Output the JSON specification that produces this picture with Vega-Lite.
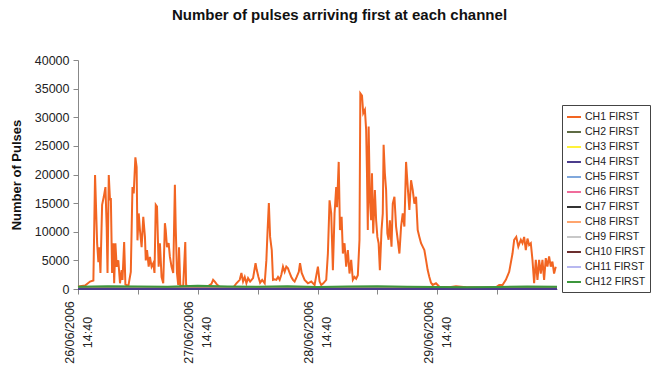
{
  "$schema": "https://vega.github.io/schema/vega-lite/v6.json",
  "autosize": "none",
  "width": 479,
  "height": 229,
  "padding": {"left": 78, "top": 60, "right": 97, "bottom": 79},
  "background": "white",
  "config": {
    "view": {"stroke": null},
    "font": "Liberation Sans"
  },
  "title": {
    "text": "Number of pulses arriving first at each channel",
    "font": "Liberation Sans",
    "fontSize": 15,
    "fontWeight": "bold",
    "color": "#111",
    "dx": 22,
    "offset": 31
  },
  "data": {
    "values": [
      {"time": "2006-06-26T14:40", "channel": "CH1 FIRST", "pulses": 400},
      {"time": "2006-06-26T15:05", "channel": "CH1 FIRST", "pulses": 500},
      {"time": "2006-06-26T16:05", "channel": "CH1 FIRST", "pulses": 600},
      {"time": "2006-06-26T17:05", "channel": "CH1 FIRST", "pulses": 1300},
      {"time": "2006-06-26T17:45", "channel": "CH1 FIRST", "pulses": 1500},
      {"time": "2006-06-26T18:05", "channel": "CH1 FIRST", "pulses": 19900},
      {"time": "2006-06-26T18:30", "channel": "CH1 FIRST", "pulses": 8000},
      {"time": "2006-06-26T18:45", "channel": "CH1 FIRST", "pulses": 4700},
      {"time": "2006-06-26T18:55", "channel": "CH1 FIRST", "pulses": 7300},
      {"time": "2006-06-26T19:10", "channel": "CH1 FIRST", "pulses": 2800},
      {"time": "2006-06-26T19:30", "channel": "CH1 FIRST", "pulses": 14700},
      {"time": "2006-06-26T19:50", "channel": "CH1 FIRST", "pulses": 16100},
      {"time": "2006-06-26T20:10", "channel": "CH1 FIRST", "pulses": 17800},
      {"time": "2006-06-26T20:25", "channel": "CH1 FIRST", "pulses": 10800},
      {"time": "2006-06-26T20:35", "channel": "CH1 FIRST", "pulses": 2800},
      {"time": "2006-06-26T20:50", "channel": "CH1 FIRST", "pulses": 19900},
      {"time": "2006-06-26T21:05", "channel": "CH1 FIRST", "pulses": 15500},
      {"time": "2006-06-26T21:15", "channel": "CH1 FIRST", "pulses": 15900},
      {"time": "2006-06-26T21:30", "channel": "CH1 FIRST", "pulses": 2800},
      {"time": "2006-06-26T21:45", "channel": "CH1 FIRST", "pulses": 8000},
      {"time": "2006-06-26T21:55", "channel": "CH1 FIRST", "pulses": 1000},
      {"time": "2006-06-26T22:10", "channel": "CH1 FIRST", "pulses": 8000},
      {"time": "2006-06-26T22:25", "channel": "CH1 FIRST", "pulses": 3900},
      {"time": "2006-06-26T22:45", "channel": "CH1 FIRST", "pulses": 5000},
      {"time": "2006-06-26T23:05", "channel": "CH1 FIRST", "pulses": 1000},
      {"time": "2006-06-26T23:25", "channel": "CH1 FIRST", "pulses": 3300},
      {"time": "2006-06-26T23:35", "channel": "CH1 FIRST", "pulses": 1600},
      {"time": "2006-06-26T23:55", "channel": "CH1 FIRST", "pulses": 8200},
      {"time": "2006-06-27T00:10", "channel": "CH1 FIRST", "pulses": 800},
      {"time": "2006-06-27T00:45", "channel": "CH1 FIRST", "pulses": 500},
      {"time": "2006-06-27T01:15", "channel": "CH1 FIRST", "pulses": 3000},
      {"time": "2006-06-27T01:35", "channel": "CH1 FIRST", "pulses": 17800},
      {"time": "2006-06-27T01:50", "channel": "CH1 FIRST", "pulses": 16700},
      {"time": "2006-06-27T02:10", "channel": "CH1 FIRST", "pulses": 23000},
      {"time": "2006-06-27T02:25", "channel": "CH1 FIRST", "pulses": 21300},
      {"time": "2006-06-27T02:35", "channel": "CH1 FIRST", "pulses": 8500},
      {"time": "2006-06-27T02:50", "channel": "CH1 FIRST", "pulses": 13200},
      {"time": "2006-06-27T03:05", "channel": "CH1 FIRST", "pulses": 10300},
      {"time": "2006-06-27T03:25", "channel": "CH1 FIRST", "pulses": 7300},
      {"time": "2006-06-27T03:45", "channel": "CH1 FIRST", "pulses": 12600},
      {"time": "2006-06-27T04:05", "channel": "CH1 FIRST", "pulses": 9100},
      {"time": "2006-06-27T04:15", "channel": "CH1 FIRST", "pulses": 5000},
      {"time": "2006-06-27T04:30", "channel": "CH1 FIRST", "pulses": 6800},
      {"time": "2006-06-27T04:50", "channel": "CH1 FIRST", "pulses": 3900},
      {"time": "2006-06-27T05:05", "channel": "CH1 FIRST", "pulses": 5600},
      {"time": "2006-06-27T05:25", "channel": "CH1 FIRST", "pulses": 3900},
      {"time": "2006-06-27T05:45", "channel": "CH1 FIRST", "pulses": 4500},
      {"time": "2006-06-27T06:00", "channel": "CH1 FIRST", "pulses": 2800},
      {"time": "2006-06-27T06:15", "channel": "CH1 FIRST", "pulses": 14700},
      {"time": "2006-06-27T06:30", "channel": "CH1 FIRST", "pulses": 14400},
      {"time": "2006-06-27T06:50", "channel": "CH1 FIRST", "pulses": 3900},
      {"time": "2006-06-27T07:05", "channel": "CH1 FIRST", "pulses": 8000},
      {"time": "2006-06-27T07:25", "channel": "CH1 FIRST", "pulses": 2100},
      {"time": "2006-06-27T07:45", "channel": "CH1 FIRST", "pulses": 1000},
      {"time": "2006-06-27T08:05", "channel": "CH1 FIRST", "pulses": 11500},
      {"time": "2006-06-27T08:15", "channel": "CH1 FIRST", "pulses": 10300},
      {"time": "2006-06-27T08:30", "channel": "CH1 FIRST", "pulses": 7300},
      {"time": "2006-06-27T08:50", "channel": "CH1 FIRST", "pulses": 8000},
      {"time": "2006-06-27T09:05", "channel": "CH1 FIRST", "pulses": 5600},
      {"time": "2006-06-27T09:25", "channel": "CH1 FIRST", "pulses": 3900},
      {"time": "2006-06-27T09:45", "channel": "CH1 FIRST", "pulses": 2800},
      {"time": "2006-06-27T10:05", "channel": "CH1 FIRST", "pulses": 18200},
      {"time": "2006-06-27T10:15", "channel": "CH1 FIRST", "pulses": 10800},
      {"time": "2006-06-27T10:30", "channel": "CH1 FIRST", "pulses": 2800},
      {"time": "2006-06-27T10:45", "channel": "CH1 FIRST", "pulses": 700},
      {"time": "2006-06-27T10:55", "channel": "CH1 FIRST", "pulses": 7300},
      {"time": "2006-06-27T11:10", "channel": "CH1 FIRST", "pulses": 600},
      {"time": "2006-06-27T11:45", "channel": "CH1 FIRST", "pulses": 500},
      {"time": "2006-06-27T12:10", "channel": "CH1 FIRST", "pulses": 8200},
      {"time": "2006-06-27T12:20", "channel": "CH1 FIRST", "pulses": 700},
      {"time": "2006-06-27T13:05", "channel": "CH1 FIRST", "pulses": 300},
      {"time": "2006-06-27T15:05", "channel": "CH1 FIRST", "pulses": 200},
      {"time": "2006-06-27T16:25", "channel": "CH1 FIRST", "pulses": 300},
      {"time": "2006-06-27T17:25", "channel": "CH1 FIRST", "pulses": 900},
      {"time": "2006-06-27T17:45", "channel": "CH1 FIRST", "pulses": 1600},
      {"time": "2006-06-27T18:05", "channel": "CH1 FIRST", "pulses": 1300},
      {"time": "2006-06-27T18:25", "channel": "CH1 FIRST", "pulses": 900},
      {"time": "2006-06-27T19:05", "channel": "CH1 FIRST", "pulses": 300},
      {"time": "2006-06-27T20:25", "channel": "CH1 FIRST", "pulses": 150},
      {"time": "2006-06-27T21:45", "channel": "CH1 FIRST", "pulses": 200},
      {"time": "2006-06-27T22:25", "channel": "CH1 FIRST", "pulses": 1000},
      {"time": "2006-06-27T23:05", "channel": "CH1 FIRST", "pulses": 1600},
      {"time": "2006-06-27T23:25", "channel": "CH1 FIRST", "pulses": 2800},
      {"time": "2006-06-27T23:45", "channel": "CH1 FIRST", "pulses": 1300},
      {"time": "2006-06-28T00:05", "channel": "CH1 FIRST", "pulses": 2100},
      {"time": "2006-06-28T00:25", "channel": "CH1 FIRST", "pulses": 1000},
      {"time": "2006-06-28T00:45", "channel": "CH1 FIRST", "pulses": 1900},
      {"time": "2006-06-28T01:10", "channel": "CH1 FIRST", "pulses": 1300},
      {"time": "2006-06-28T01:45", "channel": "CH1 FIRST", "pulses": 1900},
      {"time": "2006-06-28T02:15", "channel": "CH1 FIRST", "pulses": 4500},
      {"time": "2006-06-28T02:30", "channel": "CH1 FIRST", "pulses": 3300},
      {"time": "2006-06-28T02:50", "channel": "CH1 FIRST", "pulses": 2100},
      {"time": "2006-06-28T03:10", "channel": "CH1 FIRST", "pulses": 1100},
      {"time": "2006-06-28T03:35", "channel": "CH1 FIRST", "pulses": 1600},
      {"time": "2006-06-28T04:05", "channel": "CH1 FIRST", "pulses": 1000},
      {"time": "2006-06-28T04:25", "channel": "CH1 FIRST", "pulses": 5000},
      {"time": "2006-06-28T04:40", "channel": "CH1 FIRST", "pulses": 10300},
      {"time": "2006-06-28T04:55", "channel": "CH1 FIRST", "pulses": 15000},
      {"time": "2006-06-28T05:10", "channel": "CH1 FIRST", "pulses": 9100},
      {"time": "2006-06-28T05:30", "channel": "CH1 FIRST", "pulses": 6800},
      {"time": "2006-06-28T05:45", "channel": "CH1 FIRST", "pulses": 1600},
      {"time": "2006-06-28T06:05", "channel": "CH1 FIRST", "pulses": 1700},
      {"time": "2006-06-28T06:25", "channel": "CH1 FIRST", "pulses": 1600},
      {"time": "2006-06-28T06:45", "channel": "CH1 FIRST", "pulses": 2100},
      {"time": "2006-06-28T07:05", "channel": "CH1 FIRST", "pulses": 1600},
      {"time": "2006-06-28T07:25", "channel": "CH1 FIRST", "pulses": 2500},
      {"time": "2006-06-28T07:45", "channel": "CH1 FIRST", "pulses": 3900},
      {"time": "2006-06-28T08:05", "channel": "CH1 FIRST", "pulses": 3000},
      {"time": "2006-06-28T08:25", "channel": "CH1 FIRST", "pulses": 3900},
      {"time": "2006-06-28T08:45", "channel": "CH1 FIRST", "pulses": 3600},
      {"time": "2006-06-28T09:05", "channel": "CH1 FIRST", "pulses": 2800},
      {"time": "2006-06-28T09:25", "channel": "CH1 FIRST", "pulses": 2100},
      {"time": "2006-06-28T09:45", "channel": "CH1 FIRST", "pulses": 1600},
      {"time": "2006-06-28T10:05", "channel": "CH1 FIRST", "pulses": 1300},
      {"time": "2006-06-28T10:30", "channel": "CH1 FIRST", "pulses": 2100},
      {"time": "2006-06-28T10:55", "channel": "CH1 FIRST", "pulses": 3000},
      {"time": "2006-06-28T11:10", "channel": "CH1 FIRST", "pulses": 4500},
      {"time": "2006-06-28T11:30", "channel": "CH1 FIRST", "pulses": 2800},
      {"time": "2006-06-28T12:05", "channel": "CH1 FIRST", "pulses": 1600},
      {"time": "2006-06-28T12:45", "channel": "CH1 FIRST", "pulses": 1000},
      {"time": "2006-06-28T13:25", "channel": "CH1 FIRST", "pulses": 1300},
      {"time": "2006-06-28T14:05", "channel": "CH1 FIRST", "pulses": 700},
      {"time": "2006-06-28T14:45", "channel": "CH1 FIRST", "pulses": 3900},
      {"time": "2006-06-28T15:05", "channel": "CH1 FIRST", "pulses": 1300},
      {"time": "2006-06-28T15:25", "channel": "CH1 FIRST", "pulses": 700},
      {"time": "2006-06-28T15:50", "channel": "CH1 FIRST", "pulses": 1000},
      {"time": "2006-06-28T16:25", "channel": "CH1 FIRST", "pulses": 1600},
      {"time": "2006-06-28T16:45", "channel": "CH1 FIRST", "pulses": 6200},
      {"time": "2006-06-28T17:05", "channel": "CH1 FIRST", "pulses": 15500},
      {"time": "2006-06-28T17:25", "channel": "CH1 FIRST", "pulses": 13200},
      {"time": "2006-06-28T17:45", "channel": "CH1 FIRST", "pulses": 3300},
      {"time": "2006-06-28T18:05", "channel": "CH1 FIRST", "pulses": 13200},
      {"time": "2006-06-28T18:25", "channel": "CH1 FIRST", "pulses": 17800},
      {"time": "2006-06-28T18:35", "channel": "CH1 FIRST", "pulses": 14300},
      {"time": "2006-06-28T18:55", "channel": "CH1 FIRST", "pulses": 22200},
      {"time": "2006-06-28T19:10", "channel": "CH1 FIRST", "pulses": 10300},
      {"time": "2006-06-28T19:30", "channel": "CH1 FIRST", "pulses": 12600},
      {"time": "2006-06-28T19:45", "channel": "CH1 FIRST", "pulses": 6200},
      {"time": "2006-06-28T20:05", "channel": "CH1 FIRST", "pulses": 8000},
      {"time": "2006-06-28T20:25", "channel": "CH1 FIRST", "pulses": 3900},
      {"time": "2006-06-28T20:45", "channel": "CH1 FIRST", "pulses": 6800},
      {"time": "2006-06-28T21:05", "channel": "CH1 FIRST", "pulses": 2700},
      {"time": "2006-06-28T21:25", "channel": "CH1 FIRST", "pulses": 5100},
      {"time": "2006-06-28T21:45", "channel": "CH1 FIRST", "pulses": 1600},
      {"time": "2006-06-28T22:05", "channel": "CH1 FIRST", "pulses": 2100},
      {"time": "2006-06-28T22:25", "channel": "CH1 FIRST", "pulses": 1800},
      {"time": "2006-06-28T22:45", "channel": "CH1 FIRST", "pulses": 2400},
      {"time": "2006-06-28T23:05", "channel": "CH1 FIRST", "pulses": 8600},
      {"time": "2006-06-28T23:15", "channel": "CH1 FIRST", "pulses": 34200},
      {"time": "2006-06-28T23:35", "channel": "CH1 FIRST", "pulses": 33800},
      {"time": "2006-06-28T23:50", "channel": "CH1 FIRST", "pulses": 30700},
      {"time": "2006-06-29T00:10", "channel": "CH1 FIRST", "pulses": 31300},
      {"time": "2006-06-29T00:25", "channel": "CH1 FIRST", "pulses": 27800},
      {"time": "2006-06-29T00:35", "channel": "CH1 FIRST", "pulses": 20200},
      {"time": "2006-06-29T00:45", "channel": "CH1 FIRST", "pulses": 10300},
      {"time": "2006-06-29T00:55", "channel": "CH1 FIRST", "pulses": 28400},
      {"time": "2006-06-29T01:10", "channel": "CH1 FIRST", "pulses": 15500},
      {"time": "2006-06-29T01:25", "channel": "CH1 FIRST", "pulses": 12000},
      {"time": "2006-06-29T01:35", "channel": "CH1 FIRST", "pulses": 20200},
      {"time": "2006-06-29T01:50", "channel": "CH1 FIRST", "pulses": 9700},
      {"time": "2006-06-29T02:10", "channel": "CH1 FIRST", "pulses": 17300},
      {"time": "2006-06-29T02:25", "channel": "CH1 FIRST", "pulses": 12000},
      {"time": "2006-06-29T02:40", "channel": "CH1 FIRST", "pulses": 9100},
      {"time": "2006-06-29T02:55", "channel": "CH1 FIRST", "pulses": 8000},
      {"time": "2006-06-29T03:10", "channel": "CH1 FIRST", "pulses": 3300},
      {"time": "2006-06-29T03:30", "channel": "CH1 FIRST", "pulses": 10300},
      {"time": "2006-06-29T03:45", "channel": "CH1 FIRST", "pulses": 13200},
      {"time": "2006-06-29T03:55", "channel": "CH1 FIRST", "pulses": 25200},
      {"time": "2006-06-29T04:10", "channel": "CH1 FIRST", "pulses": 20200},
      {"time": "2006-06-29T04:25", "channel": "CH1 FIRST", "pulses": 17300},
      {"time": "2006-06-29T04:40", "channel": "CH1 FIRST", "pulses": 9700},
      {"time": "2006-06-29T04:55", "channel": "CH1 FIRST", "pulses": 8600},
      {"time": "2006-06-29T05:10", "channel": "CH1 FIRST", "pulses": 12000},
      {"time": "2006-06-29T05:30", "channel": "CH1 FIRST", "pulses": 7400},
      {"time": "2006-06-29T05:45", "channel": "CH1 FIRST", "pulses": 14900},
      {"time": "2006-06-29T06:05", "channel": "CH1 FIRST", "pulses": 16100},
      {"time": "2006-06-29T06:25", "channel": "CH1 FIRST", "pulses": 10900},
      {"time": "2006-06-29T06:45", "channel": "CH1 FIRST", "pulses": 8600},
      {"time": "2006-06-29T07:05", "channel": "CH1 FIRST", "pulses": 6200},
      {"time": "2006-06-29T07:25", "channel": "CH1 FIRST", "pulses": 10900},
      {"time": "2006-06-29T07:45", "channel": "CH1 FIRST", "pulses": 13200},
      {"time": "2006-06-29T08:05", "channel": "CH1 FIRST", "pulses": 10900},
      {"time": "2006-06-29T08:25", "channel": "CH1 FIRST", "pulses": 22200},
      {"time": "2006-06-29T08:45", "channel": "CH1 FIRST", "pulses": 17800},
      {"time": "2006-06-29T09:05", "channel": "CH1 FIRST", "pulses": 13800},
      {"time": "2006-06-29T09:25", "channel": "CH1 FIRST", "pulses": 19000},
      {"time": "2006-06-29T09:45", "channel": "CH1 FIRST", "pulses": 17300},
      {"time": "2006-06-29T10:05", "channel": "CH1 FIRST", "pulses": 14900},
      {"time": "2006-06-29T10:25", "channel": "CH1 FIRST", "pulses": 16100},
      {"time": "2006-06-29T10:45", "channel": "CH1 FIRST", "pulses": 10300},
      {"time": "2006-06-29T11:05", "channel": "CH1 FIRST", "pulses": 9100},
      {"time": "2006-06-29T11:25", "channel": "CH1 FIRST", "pulses": 8000},
      {"time": "2006-06-29T11:45", "channel": "CH1 FIRST", "pulses": 7400},
      {"time": "2006-06-29T12:05", "channel": "CH1 FIRST", "pulses": 6800},
      {"time": "2006-06-29T12:25", "channel": "CH1 FIRST", "pulses": 5100},
      {"time": "2006-06-29T12:45", "channel": "CH1 FIRST", "pulses": 3300},
      {"time": "2006-06-29T13:05", "channel": "CH1 FIRST", "pulses": 2100},
      {"time": "2006-06-29T13:25", "channel": "CH1 FIRST", "pulses": 1100},
      {"time": "2006-06-29T13:45", "channel": "CH1 FIRST", "pulses": 700},
      {"time": "2006-06-29T14:25", "channel": "CH1 FIRST", "pulses": 1000},
      {"time": "2006-06-29T15:05", "channel": "CH1 FIRST", "pulses": 400},
      {"time": "2006-06-29T17:05", "channel": "CH1 FIRST", "pulses": 300},
      {"time": "2006-06-29T18:25", "channel": "CH1 FIRST", "pulses": 500},
      {"time": "2006-06-29T20:25", "channel": "CH1 FIRST", "pulses": 300},
      {"time": "2006-06-29T23:45", "channel": "CH1 FIRST", "pulses": 200},
      {"time": "2006-06-30T02:25", "channel": "CH1 FIRST", "pulses": 300},
      {"time": "2006-06-30T03:05", "channel": "CH1 FIRST", "pulses": 700},
      {"time": "2006-06-30T03:45", "channel": "CH1 FIRST", "pulses": 700},
      {"time": "2006-06-30T04:25", "channel": "CH1 FIRST", "pulses": 1600},
      {"time": "2006-06-30T05:05", "channel": "CH1 FIRST", "pulses": 3000},
      {"time": "2006-06-30T05:45", "channel": "CH1 FIRST", "pulses": 6200},
      {"time": "2006-06-30T06:05", "channel": "CH1 FIRST", "pulses": 8600},
      {"time": "2006-06-30T06:30", "channel": "CH1 FIRST", "pulses": 9100},
      {"time": "2006-06-30T06:55", "channel": "CH1 FIRST", "pulses": 7400},
      {"time": "2006-06-30T07:25", "channel": "CH1 FIRST", "pulses": 8600},
      {"time": "2006-06-30T07:45", "channel": "CH1 FIRST", "pulses": 8000},
      {"time": "2006-06-30T08:05", "channel": "CH1 FIRST", "pulses": 9100},
      {"time": "2006-06-30T08:25", "channel": "CH1 FIRST", "pulses": 6800},
      {"time": "2006-06-30T08:45", "channel": "CH1 FIRST", "pulses": 8800},
      {"time": "2006-06-30T09:05", "channel": "CH1 FIRST", "pulses": 7700},
      {"time": "2006-06-30T09:25", "channel": "CH1 FIRST", "pulses": 8000},
      {"time": "2006-06-30T09:45", "channel": "CH1 FIRST", "pulses": 5100},
      {"time": "2006-06-30T10:05", "channel": "CH1 FIRST", "pulses": 1000},
      {"time": "2006-06-30T10:25", "channel": "CH1 FIRST", "pulses": 5100},
      {"time": "2006-06-30T10:45", "channel": "CH1 FIRST", "pulses": 1600},
      {"time": "2006-06-30T11:05", "channel": "CH1 FIRST", "pulses": 5100},
      {"time": "2006-06-30T11:25", "channel": "CH1 FIRST", "pulses": 2700},
      {"time": "2006-06-30T11:45", "channel": "CH1 FIRST", "pulses": 5100},
      {"time": "2006-06-30T12:05", "channel": "CH1 FIRST", "pulses": 1600},
      {"time": "2006-06-30T12:25", "channel": "CH1 FIRST", "pulses": 5400},
      {"time": "2006-06-30T12:45", "channel": "CH1 FIRST", "pulses": 3900},
      {"time": "2006-06-30T13:05", "channel": "CH1 FIRST", "pulses": 5700},
      {"time": "2006-06-30T13:25", "channel": "CH1 FIRST", "pulses": 3900},
      {"time": "2006-06-30T13:45", "channel": "CH1 FIRST", "pulses": 4800},
      {"time": "2006-06-30T14:05", "channel": "CH1 FIRST", "pulses": 2700},
      {"time": "2006-06-30T14:25", "channel": "CH1 FIRST", "pulses": 3900},

      {"time": "2006-06-26T14:40", "channel": "CH2 FIRST", "pulses": 250},
      {"time": "2006-06-27T02:40", "channel": "CH2 FIRST", "pulses": 300},
      {"time": "2006-06-27T14:40", "channel": "CH2 FIRST", "pulses": 250},
      {"time": "2006-06-28T02:40", "channel": "CH2 FIRST", "pulses": 300},
      {"time": "2006-06-28T14:40", "channel": "CH2 FIRST", "pulses": 200},
      {"time": "2006-06-29T02:40", "channel": "CH2 FIRST", "pulses": 300},
      {"time": "2006-06-29T14:40", "channel": "CH2 FIRST", "pulses": 200},
      {"time": "2006-06-30T02:40", "channel": "CH2 FIRST", "pulses": 250},
      {"time": "2006-06-30T14:40", "channel": "CH2 FIRST", "pulses": 250},

      {"time": "2006-06-26T14:40", "channel": "CH3 FIRST", "pulses": 60},
      {"time": "2006-06-27T02:40", "channel": "CH3 FIRST", "pulses": 80},
      {"time": "2006-06-27T14:40", "channel": "CH3 FIRST", "pulses": 50},
      {"time": "2006-06-28T02:40", "channel": "CH3 FIRST", "pulses": 70},
      {"time": "2006-06-28T14:40", "channel": "CH3 FIRST", "pulses": 50},
      {"time": "2006-06-29T02:40", "channel": "CH3 FIRST", "pulses": 80},
      {"time": "2006-06-29T14:40", "channel": "CH3 FIRST", "pulses": 40},
      {"time": "2006-06-30T02:40", "channel": "CH3 FIRST", "pulses": 50},
      {"time": "2006-06-30T14:40", "channel": "CH3 FIRST", "pulses": 60},

      {"time": "2006-06-26T14:40", "channel": "CH5 FIRST", "pulses": 30},
      {"time": "2006-06-27T02:40", "channel": "CH5 FIRST", "pulses": 40},
      {"time": "2006-06-27T14:40", "channel": "CH5 FIRST", "pulses": 30},
      {"time": "2006-06-28T02:40", "channel": "CH5 FIRST", "pulses": 40},
      {"time": "2006-06-28T14:40", "channel": "CH5 FIRST", "pulses": 30},
      {"time": "2006-06-29T02:40", "channel": "CH5 FIRST", "pulses": 40},
      {"time": "2006-06-29T14:40", "channel": "CH5 FIRST", "pulses": 20},
      {"time": "2006-06-30T02:40", "channel": "CH5 FIRST", "pulses": 30},
      {"time": "2006-06-30T14:40", "channel": "CH5 FIRST", "pulses": 30},

      {"time": "2006-06-26T14:40", "channel": "CH6 FIRST", "pulses": 40},
      {"time": "2006-06-27T02:40", "channel": "CH6 FIRST", "pulses": 60},
      {"time": "2006-06-27T14:40", "channel": "CH6 FIRST", "pulses": 40},
      {"time": "2006-06-28T02:40", "channel": "CH6 FIRST", "pulses": 50},
      {"time": "2006-06-28T14:40", "channel": "CH6 FIRST", "pulses": 40},
      {"time": "2006-06-29T02:40", "channel": "CH6 FIRST", "pulses": 60},
      {"time": "2006-06-29T14:40", "channel": "CH6 FIRST", "pulses": 30},
      {"time": "2006-06-30T02:40", "channel": "CH6 FIRST", "pulses": 40},
      {"time": "2006-06-30T14:40", "channel": "CH6 FIRST", "pulses": 40},

      {"time": "2006-06-26T14:40", "channel": "CH7 FIRST", "pulses": 20},
      {"time": "2006-06-27T02:40", "channel": "CH7 FIRST", "pulses": 30},
      {"time": "2006-06-27T14:40", "channel": "CH7 FIRST", "pulses": 20},
      {"time": "2006-06-28T02:40", "channel": "CH7 FIRST", "pulses": 30},
      {"time": "2006-06-28T14:40", "channel": "CH7 FIRST", "pulses": 20},
      {"time": "2006-06-29T02:40", "channel": "CH7 FIRST", "pulses": 30},
      {"time": "2006-06-29T14:40", "channel": "CH7 FIRST", "pulses": 10},
      {"time": "2006-06-30T02:40", "channel": "CH7 FIRST", "pulses": 20},
      {"time": "2006-06-30T14:40", "channel": "CH7 FIRST", "pulses": 20},

      {"time": "2006-06-26T14:40", "channel": "CH8 FIRST", "pulses": 50},
      {"time": "2006-06-27T02:40", "channel": "CH8 FIRST", "pulses": 70},
      {"time": "2006-06-27T14:40", "channel": "CH8 FIRST", "pulses": 50},
      {"time": "2006-06-28T02:40", "channel": "CH8 FIRST", "pulses": 60},
      {"time": "2006-06-28T14:40", "channel": "CH8 FIRST", "pulses": 50},
      {"time": "2006-06-29T02:40", "channel": "CH8 FIRST", "pulses": 70},
      {"time": "2006-06-29T14:40", "channel": "CH8 FIRST", "pulses": 40},
      {"time": "2006-06-30T02:40", "channel": "CH8 FIRST", "pulses": 50},
      {"time": "2006-06-30T14:40", "channel": "CH8 FIRST", "pulses": 50},

      {"time": "2006-06-26T14:40", "channel": "CH9 FIRST", "pulses": 30},
      {"time": "2006-06-27T02:40", "channel": "CH9 FIRST", "pulses": 40},
      {"time": "2006-06-27T14:40", "channel": "CH9 FIRST", "pulses": 30},
      {"time": "2006-06-28T02:40", "channel": "CH9 FIRST", "pulses": 40},
      {"time": "2006-06-28T14:40", "channel": "CH9 FIRST", "pulses": 30},
      {"time": "2006-06-29T02:40", "channel": "CH9 FIRST", "pulses": 40},
      {"time": "2006-06-29T14:40", "channel": "CH9 FIRST", "pulses": 20},
      {"time": "2006-06-30T02:40", "channel": "CH9 FIRST", "pulses": 30},
      {"time": "2006-06-30T14:40", "channel": "CH9 FIRST", "pulses": 30},

      {"time": "2006-06-26T14:40", "channel": "CH10 FIRST", "pulses": 40},
      {"time": "2006-06-27T02:40", "channel": "CH10 FIRST", "pulses": 50},
      {"time": "2006-06-27T14:40", "channel": "CH10 FIRST", "pulses": 40},
      {"time": "2006-06-28T02:40", "channel": "CH10 FIRST", "pulses": 50},
      {"time": "2006-06-28T14:40", "channel": "CH10 FIRST", "pulses": 40},
      {"time": "2006-06-29T02:40", "channel": "CH10 FIRST", "pulses": 50},
      {"time": "2006-06-29T14:40", "channel": "CH10 FIRST", "pulses": 30},
      {"time": "2006-06-30T02:40", "channel": "CH10 FIRST", "pulses": 40},
      {"time": "2006-06-30T14:40", "channel": "CH10 FIRST", "pulses": 40},

      {"time": "2006-06-26T14:40", "channel": "CH11 FIRST", "pulses": 20},
      {"time": "2006-06-27T02:40", "channel": "CH11 FIRST", "pulses": 30},
      {"time": "2006-06-27T14:40", "channel": "CH11 FIRST", "pulses": 20},
      {"time": "2006-06-28T02:40", "channel": "CH11 FIRST", "pulses": 30},
      {"time": "2006-06-28T14:40", "channel": "CH11 FIRST", "pulses": 20},
      {"time": "2006-06-29T02:40", "channel": "CH11 FIRST", "pulses": 30},
      {"time": "2006-06-29T14:40", "channel": "CH11 FIRST", "pulses": 20},
      {"time": "2006-06-30T02:40", "channel": "CH11 FIRST", "pulses": 20},
      {"time": "2006-06-30T14:40", "channel": "CH11 FIRST", "pulses": 20},

      {"time": "2006-06-26T14:40", "channel": "CH4 FIRST", "pulses": 0},
      {"time": "2006-06-27T02:40", "channel": "CH4 FIRST", "pulses": 0},
      {"time": "2006-06-27T14:40", "channel": "CH4 FIRST", "pulses": 0},
      {"time": "2006-06-28T02:40", "channel": "CH4 FIRST", "pulses": 0},
      {"time": "2006-06-28T14:40", "channel": "CH4 FIRST", "pulses": 0},
      {"time": "2006-06-29T02:40", "channel": "CH4 FIRST", "pulses": 0},
      {"time": "2006-06-29T14:40", "channel": "CH4 FIRST", "pulses": 0},
      {"time": "2006-06-30T02:40", "channel": "CH4 FIRST", "pulses": 0},
      {"time": "2006-06-30T14:40", "channel": "CH4 FIRST", "pulses": 0},

      {"time": "2006-06-26T14:40", "channel": "CH12 FIRST", "pulses": 400},
      {"time": "2006-06-26T20:40", "channel": "CH12 FIRST", "pulses": 500},
      {"time": "2006-06-27T02:40", "channel": "CH12 FIRST", "pulses": 450},
      {"time": "2006-06-27T08:40", "channel": "CH12 FIRST", "pulses": 400},
      {"time": "2006-06-27T14:40", "channel": "CH12 FIRST", "pulses": 550},
      {"time": "2006-06-27T20:40", "channel": "CH12 FIRST", "pulses": 450},
      {"time": "2006-06-28T02:40", "channel": "CH12 FIRST", "pulses": 400},
      {"time": "2006-06-28T08:40", "channel": "CH12 FIRST", "pulses": 500},
      {"time": "2006-06-28T14:40", "channel": "CH12 FIRST", "pulses": 350},
      {"time": "2006-06-28T20:40", "channel": "CH12 FIRST", "pulses": 450},
      {"time": "2006-06-29T02:40", "channel": "CH12 FIRST", "pulses": 500},
      {"time": "2006-06-29T08:40", "channel": "CH12 FIRST", "pulses": 400},
      {"time": "2006-06-29T14:40", "channel": "CH12 FIRST", "pulses": 350},
      {"time": "2006-06-29T20:40", "channel": "CH12 FIRST", "pulses": 300},
      {"time": "2006-06-30T02:40", "channel": "CH12 FIRST", "pulses": 350},
      {"time": "2006-06-30T08:40", "channel": "CH12 FIRST", "pulses": 450},
      {"time": "2006-06-30T14:40", "channel": "CH12 FIRST", "pulses": 400}
    ]
  },
  "mark": {"type": "line", "strokeWidth": 2, "interpolate": "linear"},
  "encoding": {
    "x": {
      "field": "time",
      "type": "temporal",
      "scale": {
        "domain": [
          {"year": 2006, "month": 6, "date": 26, "hours": 14, "minutes": 40},
          {"year": 2006, "month": 6, "date": 30, "hours": 14, "minutes": 40}
        ],
        "nice": false
      },
      "axis": {
        "title": null,
        "grid": false,
        "values": [
          {"year": 2006, "month": 6, "date": 26, "hours": 14, "minutes": 40},
          {"year": 2006, "month": 6, "date": 27, "hours": 2, "minutes": 40},
          {"year": 2006, "month": 6, "date": 27, "hours": 14, "minutes": 40},
          {"year": 2006, "month": 6, "date": 28, "hours": 2, "minutes": 40},
          {"year": 2006, "month": 6, "date": 28, "hours": 14, "minutes": 40},
          {"year": 2006, "month": 6, "date": 29, "hours": 2, "minutes": 40},
          {"year": 2006, "month": 6, "date": 29, "hours": 14, "minutes": 40},
          {"year": 2006, "month": 6, "date": 30, "hours": 2, "minutes": 40}
        ],
        "labelExpr": "hours(datum.value) == 14 ? [timeFormat(datum.value, '%d/%m/%Y'), timeFormat(datum.value, '%H:%M')] : ''",
        "labelAngle": -90,
        "labelAlign": "center",
        "labelBaseline": "middle",
        "labelPadding": 38,
        "labelOffset": -9,
        "labelLineHeight": 18,
        "labelFontSize": 12.5,
        "labelFont": "Liberation Sans",
        "labelColor": "#222",
        "labelOverlap": false,
        "labelFlush": false,
        "labelBound": false,
        "domainColor": "#888",
        "tickColor": "#888",
        "tickSize": 5
      }
    },
    "y": {
      "field": "pulses",
      "type": "quantitative",
      "scale": {"domain": [0, 40000], "nice": false},
      "axis": {
        "title": "Number of Pulses",
        "titleFont": "Liberation Sans",
        "titleFontSize": 13,
        "titleFontWeight": "bold",
        "titleColor": "#111",
        "titlePadding": 11,
        "grid": false,
        "values": [0, 5000, 10000, 15000, 20000, 25000, 30000, 35000, 40000],
        "format": "d",
        "labelFontSize": 12.5,
        "labelFont": "Liberation Sans",
        "labelColor": "#222",
        "labelPadding": 4,
        "domainColor": "#888",
        "tickColor": "#888",
        "tickSize": 5
      }
    },
    "color": {
      "field": "channel",
      "type": "nominal",
      "scale": {
        "domain": ["CH1 FIRST", "CH2 FIRST", "CH3 FIRST", "CH4 FIRST", "CH5 FIRST", "CH6 FIRST", "CH7 FIRST", "CH8 FIRST", "CH9 FIRST", "CH10 FIRST", "CH11 FIRST", "CH12 FIRST"],
        "range": ["#F26522", "#5E6B44", "#FFF23A", "#4B3C8C", "#80A8DC", "#F06C9B", "#333333", "#FFA56E", "#C8C8C8", "#6B2E2E", "#B8B8F0", "#3C963C"]
      },
      "legend": {
        "title": null,
        "orient": "none",
        "legendX": 484,
        "legendY": 45,
        "strokeColor": "#444",
        "fillColor": "#ffffff",
        "padding": 4,
        "symbolType": "stroke",
        "symbolSize": 196,
        "symbolStrokeWidth": 2,
        "labelFontSize": 10.5,
        "labelFont": "Liberation Sans",
        "labelColor": "#222",
        "labelOffset": 3,
        "rowPadding": 1
      }
    }
  }
}
